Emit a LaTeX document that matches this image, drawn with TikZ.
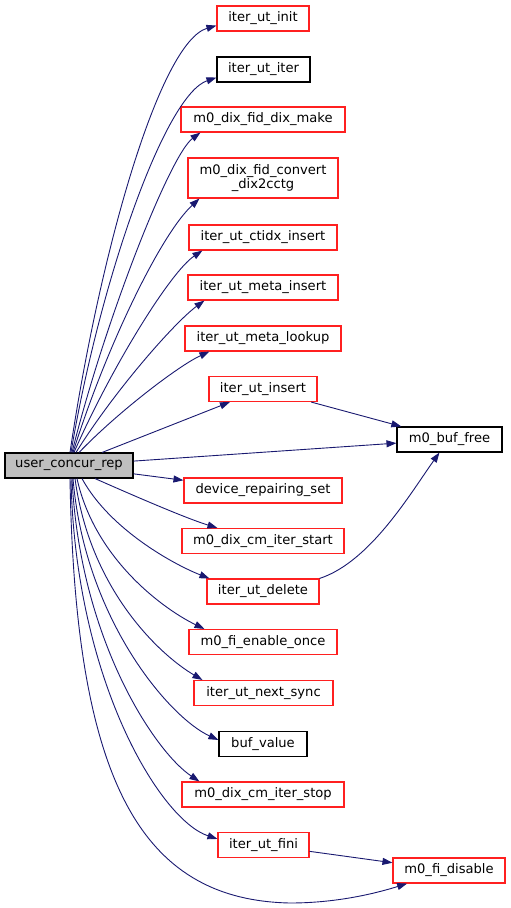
\documentclass[tikz,border=0pt]{standalone}
\usepackage{fontspec}
\setmainfont{DejaVu Sans}
\usetikzlibrary{arrows.meta,calc}
\definecolor{edgec}{HTML}{191970}
\definecolor{grayfill}{HTML}{BFBFBF}
\definecolor{boxred}{HTML}{FF2020}
\begin{document}
\begin{tikzpicture}[x=1pt,y=-1pt,
  box/.style={draw=boxred, line width=1.1pt, minimum height=25pt, inner sep=0pt,
    font=\fontsize{13.1}{13}\selectfont, text=black},
  bbox/.style={box, draw=black},
  edge/.style={draw=edgec, line width=0.9pt, -{Triangle[length=10pt,width=7pt]}}]
\useasboundingbox (0,0) rectangle (511,908);

% nodes
\node[bbox, fill=grayfill, minimum width=128pt] (user) at (69,465.5) {user\_concur\_rep};
\node[box, minimum width=92pt] (init) at (263,18.5) {iter\_ut\_init};
\node[bbox, minimum width=93pt] (iter) at (263.5,69.5) {iter\_ut\_iter};
\node[box, minimum width=164pt] (make) at (263,119.5) {m0\_dix\_fid\_dix\_make};
\node[box, minimum width=150pt, minimum height=40pt, align=center] (convert) at (263,178) {m0\_dix\_fid\_convert\\\_dix2cctg};
\node[box, minimum width=148pt] (ctidx) at (263,237.5) {iter\_ut\_ctidx\_insert};
\node[box, minimum width=150pt] (metains) at (263,287.5) {iter\_ut\_meta\_insert};
\node[box, minimum width=156pt] (lookup) at (263,338.5) {iter\_ut\_meta\_lookup};
\node[box, minimum width=108pt] (insert) at (263,389) {iter\_ut\_insert};
\node[bbox, minimum width=105pt] (buffree) at (449.5,439.5) {m0\_buf\_free};
\node[box, minimum width=158pt] (devrep) at (263,490.5) {device\_repairing\_set};
\node[box, minimum width=162pt] (cmstart) at (263,541) {m0\_dix\_cm\_iter\_start};
\node[box, minimum width=112pt] (delete) at (263,591.5) {iter\_ut\_delete};
\node[box, minimum width=148pt] (enable) at (263,642) {m0\_fi\_enable\_once};
\node[box, minimum width=139pt] (nextsync) at (263.5,693) {iter\_ut\_next\_sync};
\node[bbox, minimum width=88pt] (bufvalue) at (263,744) {buf\_value};
\node[box, minimum width=162pt] (cmstop) at (263,794.5) {m0\_dix\_cm\_iter\_stop};
\node[box, minimum width=91pt] (fini) at (263.5,845) {iter\_ut\_fini};
\node[box, minimum width=112pt] (fidisable) at (449,870.5) {m0\_fi\_disable};
\coordinate (bot) at (290,903);

% upward edges
\draw[edge] ($(user.north)+(1,0)$) .. controls (100,250) and (160,42) .. ($(init.south west)+(0,-6)$);
\draw[edge] ($(user.north)+(2,0)$) .. controls (100,280) and (165,95) .. ($(iter.south west)+(0,-5)$);
\draw[edge] ($(user.north)+(3,0)$) .. controls (105,320) and (170,155) .. ($(make.south west)+(20,0)$);
\draw[edge] ($(user.north)+(4,0)$) .. controls (105,350) and (160,235) .. ($(convert.south west)+(12,0)$);
\draw[edge] ($(user.north)+(5,0)$) .. controls (110,370) and (170,272) .. ($(ctidx.south west)+(14,0)$);
\draw[edge] ($(user.north)+(7,0)$) .. controls (115,390) and (175,322) .. ($(metains.south west)+(17,0)$);
\draw[edge] ($(user.north)+(10,0)$) .. controls (120,410) and (180,365) .. ($(lookup.south west)+(25,0)$);
\draw[edge] (user) -- (insert);
\draw[edge] (user) -- (buffree);
\draw[edge] (insert) -- (buffree);
\draw[edge] (user) -- (devrep);

% downward edges
\draw[edge] ($(user.south)+(26,0)$) .. controls (130,494) and (185,518) .. ($(cmstart.north west)+(36,0)$);
\draw[edge] ($(user.south)+(13,0)$) .. controls (110,530) and (175,565) .. ($(delete.north west)+(3,0)$);
\draw[edge] (delete.north east) .. controls (370,562) and (410,494) .. ($(buffree.south west)+(43,0)$);
\draw[edge] ($(user.south)+(8,0)$) .. controls (95,560) and (165,610) .. ($(enable.north west)+(16,0)$);
\draw[edge] ($(user.south)+(6,0)$) .. controls (90,590) and (160,655) .. ($(nextsync.north west)+(9,0)$);
\draw[edge] ($(user.south)+(4,0)$) .. controls (85,620) and (170,718) .. ($(bufvalue.north west)+(0,9)$);
\draw[edge] ($(user.south)+(3,0)$) .. controls (80,640) and (155,752) .. ($(cmstop.north west)+(18,0)$);
\draw[edge] ($(user.south)+(2,0)$) .. controls (75,680) and (160,820) .. ($(fini.north west)+(0,7)$);
\draw[edge] (fini) -- (fidisable);
\draw[edge] ($(user.south)+(1,0)$) .. controls (75,780) and (140,900) .. (bot)
  .. controls (340,903) and (380,892) .. (fidisable);
\end{tikzpicture}
\end{document}
